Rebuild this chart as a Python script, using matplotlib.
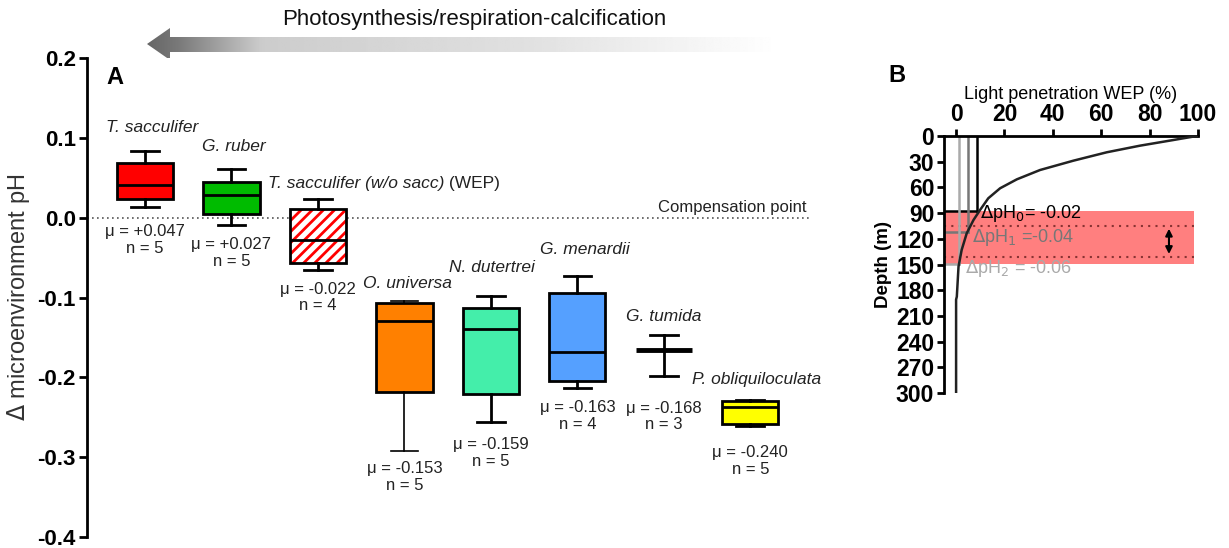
import numpy as np
import matplotlib
matplotlib.use("Agg")
import matplotlib.pyplot as plt
from matplotlib.patches import Polygon, Rectangle

plt.rcParams['font.family'] = ['Liberation Sans', 'DejaVu Sans']
plt.rcParams['hatch.linewidth'] = 2.0

# --- Panel A: box statistics per species ---
species = ['T. sacculifer', 'G. ruber', 'T. sacculifer (w/o sacc)', 'O. universa',
           'N. dutertrei', 'G. menardii', 'G. tumida', 'P. obliquiloculata']
whisk_lo = [0.013, -0.009, -0.065, -0.292, -0.256, -0.213, -0.198, -0.261]
q1 = [0.023, 0.005, -0.057, -0.218, -0.221, -0.205, -0.166, -0.258]
median = [0.041, 0.029, -0.028, -0.129, -0.139, -0.168, -0.166, -0.237]
q3 = [0.068, 0.045, 0.011, -0.107, -0.113, -0.094, -0.166, -0.230]
whisk_hi = [0.084, 0.061, 0.023, -0.105, -0.098, -0.073, -0.147, -0.228]
means = [0.047, 0.027, -0.022, -0.153, -0.159, -0.163, -0.168, -0.240]
n_obs = [5, 5, 4, 5, 5, 4, 3, 5]
box_colors = ['#ff0000', '#00bb00', 'white', '#ff8000', '#44eeaa', '#55a0ff', 'white', '#ffff00']

# label placement (x offset from box, y in data units)
name_dx = [0.08, 0.03, -0.58, 0.03, 0.01, 0.09, 0.0, 0.07]
name_y = [0.113, 0.089, 0.043, -0.083, -0.063, -0.040, -0.124, -0.203]
mu_y = [-0.028, -0.044, -0.100, -0.325, -0.295, -0.248, -0.249, -0.305]

# --- Panel B: light penetration profile ---
depth = [0, 4.7, 11.3, 19, 28.8, 39.7, 50.6, 61, 72.7, 86.4, 98, 113.5, 133, 152.5, 187.5, 191, 300]
light = [99.5, 89.8, 76, 62.3, 48.5, 34.7, 25.1, 18.2, 13.3, 9.9, 7.2, 4.4, 2.3, 1.0, 0.3, 0.0, 0.0]
wep_light = [8.7, 5.0, 1.0]
wep_depth = [87, 112, 149]
wep_colors = ['black', '#777777', '#aaaaaa']
wep_labels = [r'$\Delta$pH$_0$= -0.02', r'$\Delta$pH$_1$ =-0.04', r'$\Delta$pH$_2$ = -0.06']

fig = plt.figure(figsize=(12.29, 5.48), dpi=100)

# ============ Panel A ============
axA = fig.add_axes([87/1229, 1-537/548, (810-87)/1229, (537-58)/548])
pos = np.arange(1, len(species)+1)
stats = [dict(whislo=whisk_lo[i], q1=q1[i], med=median[i], q3=q3[i], whishi=whisk_hi[i])
         for i in range(len(species))]
bp = axA.bxp(stats, positions=pos, widths=0.65, showfliers=False, patch_artist=True,
             boxprops=dict(linewidth=2, edgecolor='black'),
             medianprops=dict(color='black', linewidth=2),
             whiskerprops=dict(linewidth=2, color='black'),
             capprops=dict(linewidth=2, color='black'), capwidths=0.32)
for i, b in enumerate(bp['boxes']):
    b.set_facecolor(box_colors[i])
# hatched box for the WEP treatment
bp['boxes'][2].set_edgecolor('#ff0000')
bp['boxes'][2].set_hatch('///')
bp['boxes'][2].set_linewidth(0)
axA.add_patch(Rectangle((pos[2]-0.325, q1[2]), 0.65, q3[2]-q1[2], fill=False,
                        edgecolor='black', linewidth=2, zorder=3))
# O. universa has thin whiskers
for k in (6, 7):
    bp['whiskers'][k].set_linewidth(1.2)
    bp['caps'][k].set_linewidth(1.2)
# G. tumida: no box, heavy median bar
bp['boxes'][6].set_visible(False)
bp['medians'][6].set_linewidth(3.5)

axA.axhline(0, color='#555555', linestyle=(0, (1, 2)), linewidth=1.2, zorder=0)
axA.text(8.65, 0.003, 'Compensation point', ha='right', va='bottom', fontsize=12, color='#222222')

for i, name in enumerate(species):
    if i == 2:
        t = axA.text(pos[i]+name_dx[i], name_y[i], name, ha='left', va='center',
                     fontsize=12.5, style='italic', color='#222222')
        axA.annotate(' (WEP)', xy=(1, 0.5), xycoords=t, ha='left', va='center',
                     fontsize=12.5, color='#222222')
    else:
        axA.text(pos[i]+name_dx[i], name_y[i], name, ha='center', va='center',
                 fontsize=12.5, style='italic', color='#222222')
    mu_txt = ('μ = %+.3f' if means[i] > 0 else 'μ = %.3f') % means[i]
    axA.text(pos[i], mu_y[i], '%s\nn = %d' % (mu_txt, n_obs[i]),
             ha='center', va='center', fontsize=12, color='#222222', linespacing=1.15)

axA.set_xlim(0.33, 8.69)
axA.set_ylim(-0.4, 0.2)
axA.set_yticks([0.2, 0.1, 0.0, -0.1, -0.2, -0.3, -0.4])
axA.set_yticklabels(['0.2', '0.1', '0.0', '-0.1', '-0.2', '-0.3', '-0.4'],
                    fontsize=16, fontweight='bold')
axA.set_xticks([])
for s in ('top', 'right', 'bottom'):
    axA.spines[s].set_visible(False)
axA.spines['left'].set_linewidth(2)
axA.tick_params(axis='y', width=2, length=6, pad=2)
axA.set_ylabel(r'$\Delta$ microenvironment pH', fontsize=17, color='#333333')
axA.yaxis.set_label_coords(-0.076, 0.5)
axA.text(0.55, 0.175, 'A', fontsize=17, fontweight='bold', va='center', ha='left')

# ============ Panel B ============
axB = fig.add_axes([944/1229, 1-393/548, (1198-944)/1229, (393-136)/548])
axB.axhspan(wep_depth[0], wep_depth[2], xmin=0, xmax=(98.3+5)/105, color='#ff7f7f', zorder=0, lw=0)
for d in (105, 141):
    axB.plot([-5, 98.3], [d, d], color='#883333', linestyle=(0, (1, 2.5)), linewidth=1.5, zorder=1)
axB.annotate('', xy=(88, 141), xytext=(88, 105),
             arrowprops=dict(arrowstyle='<|-|>', color='black', lw=1.5, mutation_scale=10))
for lx, dd, c in zip(wep_light, wep_depth, wep_colors):
    axB.plot([lx, lx], [0, dd], color=c, linewidth=1.8, zorder=2)
    axB.plot([-5, lx], [dd, dd], color=c, linewidth=1.8, zorder=2)
axB.plot(light, depth, color='#222222', linewidth=1.8, zorder=3)
label_x = [10.0, 6.6, 3.7]
label_y = [90, 118, 155]
for t, lx, ly, c in zip(wep_labels, label_x, label_y, wep_colors):
    axB.text(lx, ly, t, fontsize=13, color=c, va='center', ha='left', zorder=4)

axB.set_xlim(-5, 100)
axB.set_ylim(300, 0)
axB.xaxis.tick_top()
axB.xaxis.set_label_position('top')
axB.set_xticks([0, 20, 40, 60, 80, 100])
axB.set_yticks(np.arange(0, 301, 30))
axB.tick_params(labelsize=16.5, width=2, length=5, pad=2)
for lab in axB.get_xticklabels() + axB.get_yticklabels():
    lab.set_fontweight('bold')
axB.set_xlabel('Light penetration WEP (%)', fontsize=13, labelpad=3)
axB.set_ylabel('Depth (m)', fontsize=13.5, fontweight='bold', labelpad=3)
for s in ('right', 'bottom'):
    axB.spines[s].set_visible(False)
axB.spines['left'].set_linewidth(2)
axB.spines['top'].set_linewidth(2)
fig.text(888/1229, 1-75/548, 'B', fontsize=17, fontweight='bold', va='center', ha='left')

# ============ gradient arrow across the top ============
axT = fig.add_axes([0, 0, 1, 1], zorder=-1)
axT.set_xlim(0, 1229)
axT.set_ylim(548, 0)
axT.axis('off')
xs = np.linspace(0, 1, 400)
shade = np.interp(xs, [0, 0.05, 0.18, 0.6, 1.0], [0.40, 0.48, 0.80, 0.88, 1.0])
grad = np.tile(shade, (2, 1))
im = axT.imshow(grad, cmap='gray', vmin=0, vmax=1, extent=(147, 780, 60, 28), aspect='auto')
arrow = Polygon([(147, 44), (170, 28), (170, 37), (780, 37), (780, 52), (170, 52), (170, 60)],
                closed=True, facecolor='none', edgecolor='none', transform=axT.transData)
axT.add_patch(arrow)
im.set_clip_path(arrow)
fig.text(474/1229, 1-19/548, 'Photosynthesis/respiration-calcification', fontsize=16,
         ha='center', va='center', color='#111111')

fig.savefig('out.png', dpi=100)
